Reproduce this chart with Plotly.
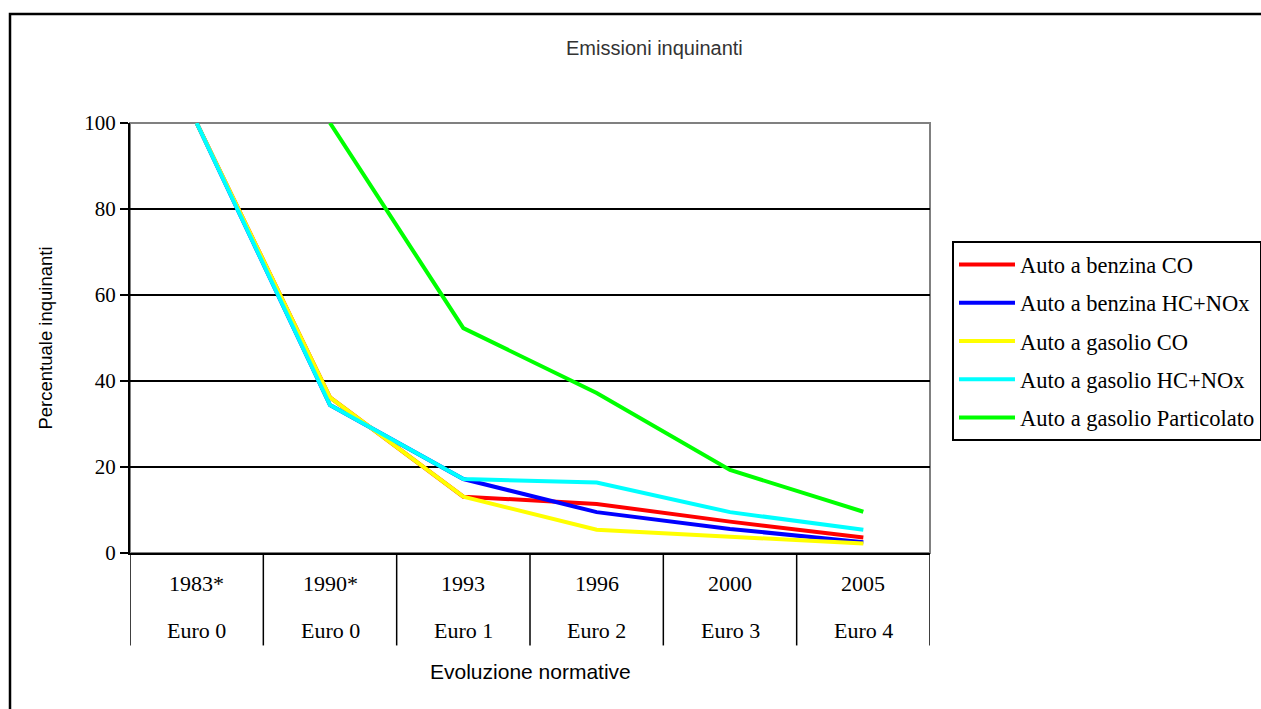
import plotly.graph_objects as go

years = ["1983*", "1990*", "1993", "1996", "2000", "2005"]
norms = ["Euro 0", "Euro 0", "Euro 1", "Euro 2", "Euro 3", "Euro 4"]

series_names = [
    "Auto a benzina CO",
    "Auto a benzina HC+NOx",
    "Auto a gasolio CO",
    "Auto a gasolio HC+NOx",
    "Auto a gasolio Particolato",
]
benzina_co = [100, 36.2, 13.1, 11.4, 7.3, 3.6]
benzina_hcnox = [100, 34.4, 17.2, 9.5, 5.6, 2.5]
gasolio_co = [100, 36.2, 13.1, 5.4, 3.8, 2.2]
gasolio_hcnox = [100, 34.4, 17.2, 16.4, 9.5, 5.4]
gasolio_pm = [None, 100, 52.3, 37.2, 19.3, 9.6]
colors = ["#FF0000", "#0000FF", "#FFFF00", "#00FFFF", "#00FF00"]

y_ticks = [0, 20, 40, 60, 80, 100]

all_series = [benzina_co, benzina_hcnox, gasolio_co, gasolio_hcnox, gasolio_pm]

fig = go.Figure()
for i, (name, vals, col) in enumerate(zip(series_names, all_series, colors)):
    fig.add_trace(go.Scatter(
        x=years, y=vals, name=name, mode="lines",
        line=dict(color=col, width=4),
        legendgroup=f"g{i}",
        connectgaps=False,
    ))

serif = "Liberation Serif, Times New Roman, serif"
sans = "Liberation Sans, Arial, sans-serif"

shapes = []
# plot-area border (gray), between grid and traces
shapes.append(dict(type="rect", xref="paper", yref="paper", x0=0, x1=1, y0=0, y1=1,
                   line=dict(color="#808080", width=2), layer="between"))
# category dividers below axis
for i in range(len(years) + 1):
    shapes.append(dict(type="line", xref="x", yref="paper", x0=i - 0.5, x1=i - 0.5,
                       y0=0, y1=-0.215, line=dict(color="black", width=1.5)))
# outer chart border
shapes.append(dict(type="rect", xref="paper", yref="paper", x0=-0.15, x1=1.5,
                   y0=-0.38, y1=1.2535, line=dict(color="black", width=2.5),
                   layer="below"))

annotations = []
for i, (yr, nm) in enumerate(zip(years, norms)):
    annotations.append(dict(x=i, y=-0.0698, xref="x", yref="paper", text=yr,
                            showarrow=False, font=dict(family=serif, size=22, color="black"),
                            yanchor="middle"))
    annotations.append(dict(x=i, y=-0.1791, xref="x", yref="paper", text=nm,
                            showarrow=False, font=dict(family=serif, size=22, color="black"),
                            yanchor="middle"))
annotations.append(dict(x=0.656, y=1.174, xref="paper", yref="paper",
                        text="Emissioni inquinanti",
                        showarrow=False, font=dict(family=sans, size=20, color="#333333"),
                        yanchor="middle"))
annotations.append(dict(x=0.5, y=-0.2767, xref="paper", yref="paper",
                        text="Evoluzione normative", showarrow=False,
                        font=dict(family=sans, size=21, color="black"), yanchor="middle"))

fig.update_layout(
    width=1261, height=709,
    margin=dict(l=130, r=331, t=123, b=156, autoexpand=False),
    paper_bgcolor="white", plot_bgcolor="white",
    showlegend=True,
    legend=dict(x=1.0275, y=0.725, xanchor="left", yanchor="top",
                font=dict(family=serif, size=22.5, color="black"),
                bgcolor="white", bordercolor="black", borderwidth=2,
                tracegroupgap=6, itemwidth=56),
    xaxis=dict(type="category", categoryorder="array", categoryarray=years,
               range=[-0.5, len(years) - 0.5], showticklabels=False, ticks="",
               showgrid=False, zeroline=False, showline=True, linecolor="black", linewidth=2,
               automargin=False),
    yaxis=dict(range=[0, 100], tickvals=y_ticks, ticktext=[str(v) for v in y_ticks],
               showgrid=True, gridcolor="black", gridwidth=2, zeroline=False,
               showline=True, linecolor="black", linewidth=2,
               ticks="outside", ticklen=8, tickwidth=2, tickcolor="black",
               tickfont=dict(family=serif, size=21, color="black"),
               automargin=False,
               title=dict(text="Percentuale inquinanti", standoff=27,
                          font=dict(family=sans, size=18.5, color="black"))),
    shapes=shapes, annotations=annotations,
)

fig.write_html("out.html", config={"displayModeBar": False},
               post_script="document.body.style.margin='0';")
